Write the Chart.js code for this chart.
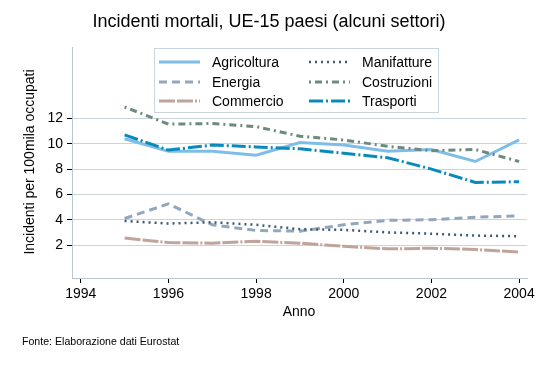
<!DOCTYPE html>
<html lang="it">
<head>
<meta charset="UTF-8">
<title>Incidenti mortali</title>
<style>
  body { margin: 0; background: #fff; }
  #wrap { width: 542px; height: 366px; }
</style>
</head>
<body>
<div id="wrap"><canvas id="myChart" width="542" height="366"></canvas></div>

<script src="https://cdn.jsdelivr.net/npm/chart.js@4.4.0/dist/chart.umd.min.js"></script>
<script>
// dati
var anni        = [1995, 1996, 1997, 1998, 1999, 2000, 2001, 2002, 2003, 2004];
var agricoltura = [10.4, 9.4, 9.4, 9.1, 10.1, 9.9, 9.4, 9.55, 8.6, 10.3];
var energia     = [4.1, 5.25, 3.6, 3.15, 3.1, 3.6, 3.95, 4.0, 4.2, 4.3];
var commercio   = [2.55, 2.2, 2.15, 2.3, 2.15, 1.9, 1.7, 1.75, 1.65, 1.45];
var manifatture = [3.9, 3.7, 3.8, 3.6, 3.25, 3.2, 3.0, 2.9, 2.75, 2.7];
var costruzioni = [12.9, 11.55, 11.6, 11.35, 10.6, 10.3, 9.8, 9.45, 9.55, 8.6];
var trasporti   = [10.7, 9.5, 9.9, 9.75, 9.6, 9.25, 8.9, 8.0, 6.95, 7.0];

var yTicks = [2, 4, 6, 8, 10, 12];
var xTicks = [1994, 1996, 1998, 2000, 2002, 2004];

var FONT = "'Liberation Sans', Arial, sans-serif";

function f_punti(valori){
    var out = [];
    for(var i=0; i<anni.length; i++){
        out.push({x: anni[i], y: valori[i]});
    }
    return out;
}

function f_serie(nome, valori, colore, dash, spessore, ordine){
    return {
        label: nome,
        data: f_punti(valori),
        borderColor: colore,
        backgroundColor: colore,
        borderWidth: spessore,
        borderDash: dash,
        pointRadius: 0,
        tension: 0,
        fill: false,
        order: ordine
    };
}

// legenda a due colonne dentro l'area del grafico
var legendaBox = {
    id: 'legendaBox',
    afterDraw: function(chart){
        var c = chart.ctx;
        var ds = chart.data.datasets;
        c.save();
        c.strokeStyle = '#c8d4de';
        c.lineWidth = 1;
        c.strokeRect(154.5, 48.5, 284, 64);
        var righe = [62, 82, 101];
        var colX = [159, 309];
        c.font = '14px ' + FONT;
        c.fillStyle = '#000';
        c.textBaseline = 'middle';
        for(var i=0; i<ds.length; i++){
            var col = i < 3 ? 0 : 1;
            var y = righe[i % 3];
            c.beginPath();
            c.setLineDash(ds[i].borderDash || []);
            c.strokeStyle = ds[i].borderColor;
            c.lineWidth = ds[i].borderWidth;
            c.moveTo(colX[col], y);
            c.lineTo(colX[col] + 41, y);
            c.stroke();
            c.setLineDash([]);
            c.fillText(ds[i].label, colX[col] + 53, y + 1);
        }
        c.restore();
    }
};

// titoli e nota
var testi = {
    id: 'testi',
    afterDraw: function(chart){
        var c = chart.ctx;
        c.save();
        c.fillStyle = '#000';
        c.textBaseline = 'middle';
        c.textAlign = 'center';
        c.font = '18px ' + FONT;
        c.fillText('Incidenti mortali, UE-15 paesi (alcuni settori)', 269, 22);
        c.font = '14px ' + FONT;
        c.fillText('Anno', 299, 312);
        c.save();
        c.translate(30, 162);
        c.rotate(-Math.PI/2);
        c.fillText('Incidenti per 100mila occupati', 0, 0);
        c.restore();
        c.textAlign = 'left';
        c.font = '10.6px ' + FONT;
        c.fillText('Fonte: Elaborazione dati Eurostat', 22, 342);
        c.restore();
    }
};

const ctx = document.getElementById('myChart').getContext('2d');
const myChart = new Chart(ctx, {
    type: 'line',
    data: {
        datasets: [
            f_serie('Agricoltura', agricoltura, '#7fbde9', [], 3, 6),
            f_serie('Energia', energia, '#92a7bd', [8, 5], 3, 5),
            f_serie('Commercio', commercio, '#c0a49c', [16, 2, 16, 2, 2, 2], 3, 4),
            f_serie('Manifatture', manifatture, '#3b5a74', [2, 4], 2.5, 3),
            f_serie('Costruzioni', costruzioni, '#6d8a7f', [2, 4, 7, 4], 3, 2),
            f_serie('Trasporti', trasporti, '#0a89bd', [14, 3, 2, 3], 3, 1)
        ]
    },
    options: {
        responsive: false,
        animation: false,
        layout: { padding: { left: 0, right: 15, top: 47, bottom: 0 } },
        plugins: {
            legend: { display: false },
            title: { display: false },
            tooltip: { enabled: false }
        },
        scales: {
            x: {
                type: 'linear',
                min: 1993.8,
                max: 2004.18,
                afterBuildTicks: function(ax){
                    ax.ticks = xTicks.map(function(v){ return {value: v}; });
                },
                afterFit: function(ax){ ax.height = 88; },
                ticks: {
                    color: '#000',
                    font: { family: FONT, size: 14 },
                    padding: 3,
                    maxRotation: 0,
                    callback: function(v){ return String(v); }
                },
                grid: {
                    drawOnChartArea: false,
                    drawTicks: true,
                    tickLength: 5,
                    tickColor: '#000'
                },
                border: { color: '#b8c7d3', width: 1 }
            },
            y: {
                type: 'linear',
                min: -0.6,
                max: 17.64,
                afterBuildTicks: function(ax){
                    ax.ticks = yTicks.map(function(v){ return {value: v}; });
                },
                afterFit: function(ax){ ax.width = 72; },
                ticks: {
                    color: '#000',
                    font: { family: FONT, size: 14 },
                    padding: 4
                },
                grid: {
                    color: '#c8d4de',
                    lineWidth: 1,
                    tickLength: 5,
                    tickColor: '#000'
                },
                border: { color: '#b8c7d3', width: 1 }
            }
        }
    },
    plugins: [legendaBox, testi]
});
</script>
</body>
</html>
